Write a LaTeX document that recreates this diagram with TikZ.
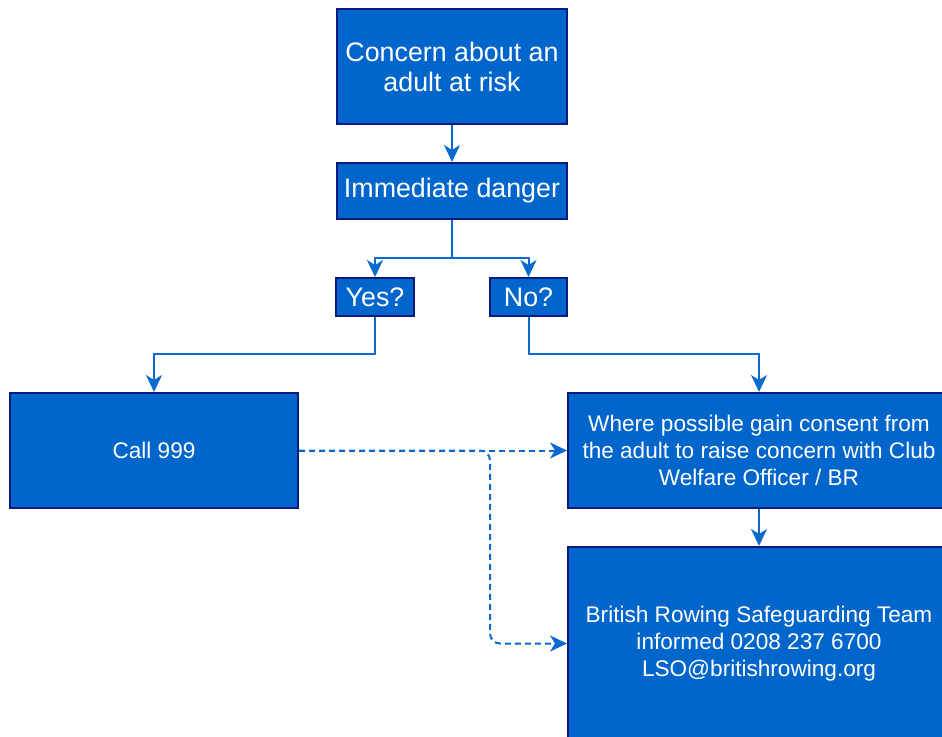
\documentclass[tikz,border=0pt]{standalone}
\usepackage{fontspec}
\setmainfont{Liberation Sans}
\usetikzlibrary{arrows.meta}
\definecolor{boxfill}{HTML}{0066CC}
\definecolor{boxline}{HTML}{0A1A80}
\definecolor{linkcol}{HTML}{0A6AD0}
\begin{document}
\begin{tikzpicture}[x=1pt,y=-1pt,
  box/.style={draw=boxline, line width=2pt, fill=boxfill, text=white, align=center,
    inner sep=0pt, font=\fontsize{26.8}{30}\selectfont},
  boxsmall/.style={box, font=\fontsize{22.6}{26.8}\selectfont},
  link/.style={draw=linkcol, line width=2pt, -{Stealth[length=17pt,width=16pt,inset=5pt]}},
  dlink/.style={link, dash pattern=on 6pt off 4pt, rounded corners=10pt}]
\useasboundingbox (0,0) rectangle (942,736);
\clip (0,0) rectangle (942,736);
\fill[white] (0,0) rectangle (942,736);

\node[box, minimum width=230pt, minimum height=115pt] (concern) at (452,66.5) {Concern about an\\adult at risk};
\node[box, minimum width=230pt, minimum height=56pt] (imm) at (452,191) {Immediate danger};
\node[box, minimum width=78pt, minimum height=38pt] (yes) at (375,297) {Yes?};
\node[box, minimum width=77pt, minimum height=38pt] (no) at (528.5,297) {No?};
\node[boxsmall, minimum width=288pt, minimum height=115pt] (call) at (154,450.5) {Call 999};
\node[boxsmall, minimum width=382pt, minimum height=115pt] (where) at (759,450.5) {Where possible gain consent from\\the adult to raise concern with Club\\Welfare Officer / BR};
\node[boxsmall, minimum width=382pt, minimum height=193pt] (brit) at (759,643.5) {British Rowing Safeguarding Team\\informed 0208 237 6700\\LSO@britishrowing.org};

\coordinate (split) at (452,258);
\coordinate (ymid) at (264,354);
\coordinate (nmid) at (640,354);
\coordinate (dj1) at (490,450.5);
\coordinate (dj2) at (490,643.5);

\draw[link] (concern) -- (imm);
\draw[link] (imm.south) -- (split) -| (yes.north);
\draw[link] (imm.south) -- (split) -| (no.north);
\draw[link] (yes.south) |- (ymid) -| (call.north);
\draw[link] (no.south) |- (nmid) -| (where.north);
\draw[link] (where) -- (brit);
\draw[dlink] (call.east) -- (where.west);
\draw[dlink] (call.east) -- (dj1) -- (dj2) -- (brit.west);
\end{tikzpicture}
\end{document}
